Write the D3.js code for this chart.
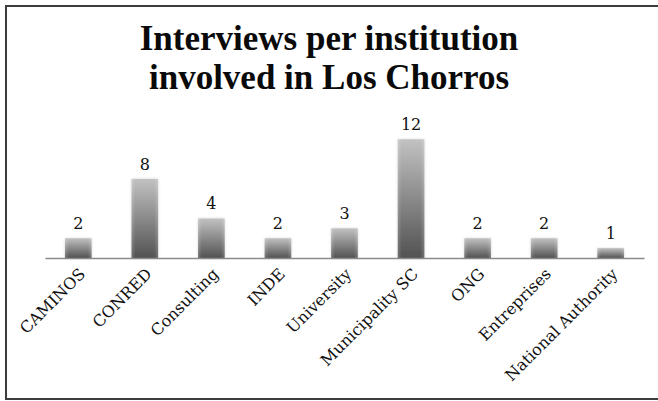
<!DOCTYPE html>
<html>
<head>
<meta charset="utf-8">
<script src="https://cdn.jsdelivr.net/npm/d3@7"></script>
<style>
  body { margin: 0; background: #fff; }
  svg { display: block; }
</style>
</head>
<body>
<svg id="chart" width="658" height="401"></svg>
<script>
const institutions = ["CAMINOS", "CONRED", "Consulting", "INDE", "University",
  "Municipality SC", "ONG", "Entreprises", "National Authority"];
const interviews = [2, 8, 4, 2, 3, 12, 2, 2, 1];
const titleLines = ["Interviews per institution", "involved in Los Chorros"];

const W = 658, H = 401;
const svg = d3.select("#chart");
const titleFont = "'Liberation Serif', 'DejaVu Serif', serif";
const labelFont = "'DejaVu Serif', 'Liberation Serif', serif";

// frame
svg.append("rect")
  .attr("x", 6).attr("y", 6)
  .attr("width", W + 10).attr("height", 393)
  .attr("fill", "#fff")
  .attr("stroke", "#3c3c3c")
  .attr("stroke-width", 2);

// gradient for bars: light top, dark bottom
const defs = svg.append("defs");
const grad = defs.append("linearGradient")
  .attr("id", "barGrad")
  .attr("x1", 0).attr("y1", 0).attr("x2", 0).attr("y2", 1);
grad.append("stop").attr("offset", "0%").attr("stop-color", "#c2c2c2");
grad.append("stop").attr("offset", "100%").attr("stop-color", "#525252");

const side = defs.append("linearGradient")
  .attr("id", "sideGrad")
  .attr("x1", 0).attr("y1", 0).attr("x2", 1).attr("y2", 0);
side.append("stop").attr("offset", "0%").attr("stop-color", "#fff").attr("stop-opacity", 0.18);
side.append("stop").attr("offset", "15%").attr("stop-color", "#fff").attr("stop-opacity", 0);
side.append("stop").attr("offset", "85%").attr("stop-color", "#fff").attr("stop-opacity", 0);
side.append("stop").attr("offset", "100%").attr("stop-color", "#fff").attr("stop-opacity", 0.18);

const shadow = defs.append("filter").attr("id", "glow")
  .attr("x", "-30%").attr("y", "-10%").attr("width", "160%").attr("height", "120%");
shadow.append("feGaussianBlur").attr("in", "SourceAlpha").attr("stdDeviation", 1.5).attr("result", "b");
shadow.append("feComponentTransfer").append("feFuncA").attr("type", "linear").attr("slope", 0.15);
const merge = shadow.append("feMerge");
merge.append("feMergeNode");
merge.append("feMergeNode").attr("in", "SourceGraphic");

const x = d3.scaleBand()
  .domain(institutions)
  .range([45, 644])
  .paddingInner(0.6)
  .paddingOuter(0.3);

const y = d3.scaleLinear()
  .domain([0, 14])
  .range([258, 119.5]);

// title
svg.append("text")
  .attr("x", 329).attr("y", 50)
  .attr("text-anchor", "middle")
  .attr("font-family", titleFont)
  .attr("font-weight", "bold")
  .attr("font-size", 35)
  .attr("fill", "#0a0a0a")
  .selectAll("tspan")
  .data(titleLines)
  .enter().append("tspan")
  .attr("x", 329)
  .attr("dy", (d, i) => i ? 39 : 0)
  .text(d => d);

// bars
const bars = svg.append("g");
bars.selectAll("rect.bar")
  .data(interviews)
  .enter().append("rect")
  .attr("class", "bar")
  .attr("x", (d, i) => x(institutions[i]))
  .attr("y", d => y(d))
  .attr("width", x.bandwidth())
  .attr("height", d => y(0) - y(d))
  .attr("fill", "url(#barGrad)")
  .attr("filter", "url(#glow)");
bars.selectAll("rect.side")
  .data(interviews)
  .enter().append("rect")
  .attr("class", "side")
  .attr("x", (d, i) => x(institutions[i]))
  .attr("y", d => y(d))
  .attr("width", x.bandwidth())
  .attr("height", d => y(0) - y(d))
  .attr("fill", "url(#sideGrad)");

// value labels
svg.selectAll(".val")
  .data(interviews)
  .enter().append("text")
  .attr("class", "val")
  .attr("x", (d, i) => x(institutions[i]) + x.bandwidth() / 2)
  .attr("y", d => y(d) - 9)
  .attr("text-anchor", "middle")
  .attr("font-family", labelFont)
  .attr("font-size", 16)
  .attr("fill", "#111")
  .text(d => d);

// axis
const axis = svg.append("g")
  .attr("transform", `translate(0,${y(0)})`)
  .call(d3.axisBottom(x).tickSize(0).tickSizeOuter(0));
axis.select(".domain").attr("stroke", "#8a8a8a").attr("stroke-width", 1.5);
axis.selectAll(".tick text")
  .attr("font-family", labelFont)
  .attr("font-size", 16)
  .attr("fill", "#111")
  .attr("text-anchor", "end")
  .attr("dy", 0)
  .attr("y", 0)
  .attr("transform", "translate(8,17) rotate(-45)");
</script>
</body>
</html>
